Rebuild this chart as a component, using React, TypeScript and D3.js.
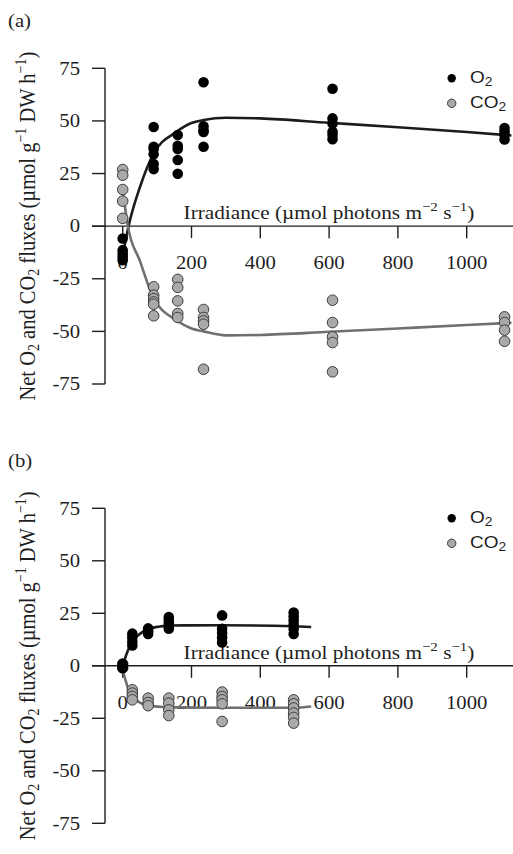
import React from "react";
import * as d3 from "d3";

// Irradiance levels (µmol photons m-2 s-1) and replicate fluxes, panel (a)
const irrA = [0, 90, 160, 235, 610, 1110];
const o2A = [
  [-5.9, -11.4, -13, -14.6, -16.2],
  [47.1, 37.7, 36.6, 34.2, 29.5, 27.1],
  [43.3, 38.2, 36.6, 31.4, 24.9],
  [68.4, 47.5, 45.6, 44.7, 37.7],
  [65.3, 51.2, 48.8, 44.8, 43.3, 41.3],
  [46.6, 45, 43.3, 41.2],
];
const co2A = [
  [26.9, 24.2, 17.4, 11.9, 3.7],
  [-28.8, -32.8, -34.4, -36, -37.1, -42.6],
  [-25.3, -29.1, -35.5, -41.5, -43.4],
  [-39.6, -43.4, -45, -46.6, -68],
  [-35.2, -45.8, -52.6, -55.3, -69.2],
  [-43.1, -45.8, -49.4, -54.7],
];
// Fitted P–I curves, panel (a)
const o2FitIrrA = [0, 17, 50, 89, 156, 200, 235, 300, 400, 600, 800, 1000, 1130];
const o2FitA = [-14, 0, 18.5, 34.2, 44.8, 49, 50.4, 51.5, 51.2, 49.1, 47, 44.7, 43.1];
const co2FitIrrA = [0, 15, 50, 89, 156, 200, 235, 300, 400, 600, 800, 1000, 1130];
const co2FitA = [17.4, 0, -16.5, -34, -44.7, -48.6, -50, -51.9, -51.7, -50.2, -48.6, -47, -45.9];

// Panel (b)
const irrB = [0, 28, 74, 134, 289, 497];
const o2B = [
  [1, 0, -1],
  [15.3, 13.5, 11.5, 9.7],
  [17.8, 16.5, 15.2],
  [23.2, 21.8, 20.3, 18.7, 17.7],
  [24, 17.6, 15.6, 13.5, 11.1],
  [25.4, 23.5, 21.6, 19.5, 17.5, 15.2],
];
const co2B = [
  [0.8, -1],
  [-11.4, -13, -14.6, -16.2],
  [-15.4, -17.5, -19],
  [-15.4, -17.8, -21, -23.7],
  [-12.5, -14.6, -16.2, -18.1, -26.5],
  [-16.2, -18.1, -20.1, -22.5, -24.6, -27.3],
];
const o2FitIrrB = [0, 12, 28, 50, 74, 108, 134, 289, 497, 548];
const o2FitB = [0, 6, 11.6, 15.2, 17.5, 18.7, 19.2, 19.3, 18.8, 18.5];
const co2FitIrrB = [0, 5, 21, 50, 74, 134, 289, 497, 548];
const co2FitB = [-2, -5, -12.9, -17.5, -18.9, -19.7, -20, -20, -19.4];

const xTicks = [0, 200, 400, 600, 800, 1000, 1200];
const xTickLabels = ["0", "200", "400", "600", "800", "1000", ""];
const yTicks = [75, 50, 25, 0, -25, -50, -75];

const W = 513;
const H = 854;
const SERIF = "'Liberation Serif', 'Times New Roman', serif";
const SANS = "'Liberation Sans', Arial, sans-serif";
const INK = "#1e1e1e";
const GREY_FILL = "#a9a9a9";
const GREY_EDGE = "#3c3c3c";
// horizontal text is drawn slightly wide
const SX = 1.15;

const xScale = d3.scaleLinear().domain([0, 1000]).range([122.7, 466.7]);

const at = (x: number, y: number) => `translate(${x},${y}) scale(${SX},1)`;

type PanelProps = {
  tag: string;
  yTop: number;
  yBottom: number;
  irr: number[];
  o2: number[][];
  co2: number[][];
  o2FitIrr: number[];
  o2Fit: number[];
  co2FitIrr: number[];
  co2Fit: number[];
};

function Panel(p: PanelProps) {
  const y = d3.scaleLinear().domain([-75, 75]).range([p.yBottom, p.yTop]);
  const axisX = 105;
  const y0 = y(0);
  const line = d3
    .line<[number, number]>()
    .x((d) => xScale(d[0]))
    .y((d) => y(d[1]))
    .curve(d3.curveMonotoneX);
  const o2Path = line(p.o2FitIrr.map((v, i) => [v, p.o2Fit[i]] as [number, number]));
  const co2Path = line(p.co2FitIrr.map((v, i) => [v, p.co2Fit[i]] as [number, number]));
  const midY = (p.yTop + p.yBottom) / 2;

  return (
    <g>
      {/* panel tag */}
      <text transform={at(8, p.yTop - 41)} fontFamily={SERIF} fontSize={18} fill={INK}>
        {p.tag}
      </text>

      {/* y-axis title */}
      <text
        transform={`translate(35,${midY}) rotate(-90) scale(1,1.12)`}
        textAnchor="middle"
        fontFamily={SERIF}
        fontSize={20.5}
        fill={INK}
      >
        Net O<tspan fontSize={14} dy={4}>2</tspan>
        <tspan dy={-4}> and CO</tspan>
        <tspan fontSize={14} dy={4}>2</tspan>
        <tspan dy={-4}> fluxes (µmol  g</tspan>
        <tspan fontSize={14} dy={-8}>−1</tspan>
        <tspan dy={8}> DW h</tspan>
        <tspan fontSize={14} dy={-8}>−1</tspan>
        <tspan dy={8}>)</tspan>
      </text>

      {/* y axis */}
      <line x1={axisX} x2={axisX} y1={y(75)} y2={y(-75)} stroke={INK} strokeWidth={1.4} />
      {yTicks.map((t) => (
        <g key={t}>
          <line x1={axisX - 13} x2={axisX} y1={y(t)} y2={y(t)} stroke={INK} strokeWidth={1.4} />
          <text
            transform={at(80, y(t))}
            dy="0.35em"
            textAnchor="end"
            fontFamily={SERIF}
            fontSize={18}
            fill={INK}
          >
            {t}
          </text>
        </g>
      ))}

      {/* zero line and x ticks */}
      <line x1={axisX - 13} x2={W} y1={y0} y2={y0} stroke={INK} strokeWidth={1.4} />
      {xTicks.map((t, i) => (
        <g key={t}>
          <line x1={xScale(t)} x2={xScale(t)} y1={y0} y2={y0 + 12} stroke={INK} strokeWidth={1.4} />
          {xTickLabels[i] && (
            <text
              transform={at(xScale(t), y0 + 37)}
              dy="0.35em"
              textAnchor="middle"
              fontFamily={SERIF}
              fontSize={18}
              fill={INK}
            >
              {xTickLabels[i]}
            </text>
          )}
        </g>
      ))}

      {/* x-axis title */}
      <text
        transform={at(329, y0 - 7)}
        textAnchor="middle"
        fontFamily={SERIF}
        fontSize={18.5}
        fill={INK}
      >
        Irradiance (µmol photons m<tspan fontSize={13} dy={-8}>−2</tspan>
        <tspan dy={8}> s</tspan>
        <tspan fontSize={13} dy={-8}>−1</tspan>
        <tspan dy={8}>)</tspan>
      </text>

      {/* fitted curves */}
      <path d={o2Path ?? ""} fill="none" stroke="#1c1c1c" strokeWidth={2.6} />
      <path d={co2Path ?? ""} fill="none" stroke="#707070" strokeWidth={2.6} />

      {/* observations */}
      {p.co2.map((col, i) =>
        col.map((v, j) => (
          <circle
            key={`c${i}-${j}`}
            cx={xScale(p.irr[i])}
            cy={y(v)}
            r={5.3}
            fill={GREY_FILL}
            stroke={GREY_EDGE}
            strokeWidth={1}
          />
        ))
      )}
      {p.o2.map((col, i) =>
        col.map((v, j) => (
          <circle key={`o${i}-${j}`} cx={xScale(p.irr[i])} cy={y(v)} r={5.3} fill="#000" />
        ))
      )}

      {/* legend */}
      <circle cx={451.7} cy={p.yTop + 10} r={4.2} fill="#000" />
      <text transform={at(470, p.yTop + 15)} fontFamily={SANS} fontSize={16.5} fill={INK}>
        O<tspan fontSize={12} dy={3}>2</tspan>
      </text>
      <circle cx={451.7} cy={p.yTop + 35} r={4.2} fill={GREY_FILL} stroke={GREY_EDGE} strokeWidth={1} />
      <text transform={at(470, p.yTop + 40)} fontFamily={SANS} fontSize={16.5} fill={INK}>
        CO<tspan fontSize={12} dy={3}>2</tspan>
      </text>
    </g>
  );
}

export default function App() {
  return (
    <svg
      width={W}
      height={H}
      viewBox={`0 0 ${W} ${H}`}
      style={{ position: "absolute", left: 0, top: 0, background: "#fff" }}
    >
      <rect width={W} height={H} fill="#fff" />
      <Panel
        tag="(a)"
        yTop={68.3}
        yBottom={384}
        irr={irrA}
        o2={o2A}
        co2={co2A}
        o2FitIrr={o2FitIrrA}
        o2Fit={o2FitA}
        co2FitIrr={co2FitIrrA}
        co2Fit={co2FitA}
      />
      <Panel
        tag="(b)"
        yTop={508.3}
        yBottom={823.3}
        irr={irrB}
        o2={o2B}
        co2={co2B}
        o2FitIrr={o2FitIrrB}
        o2Fit={o2FitB}
        co2FitIrr={co2FitIrrB}
        co2Fit={co2FitB}
      />
    </svg>
  );
}
